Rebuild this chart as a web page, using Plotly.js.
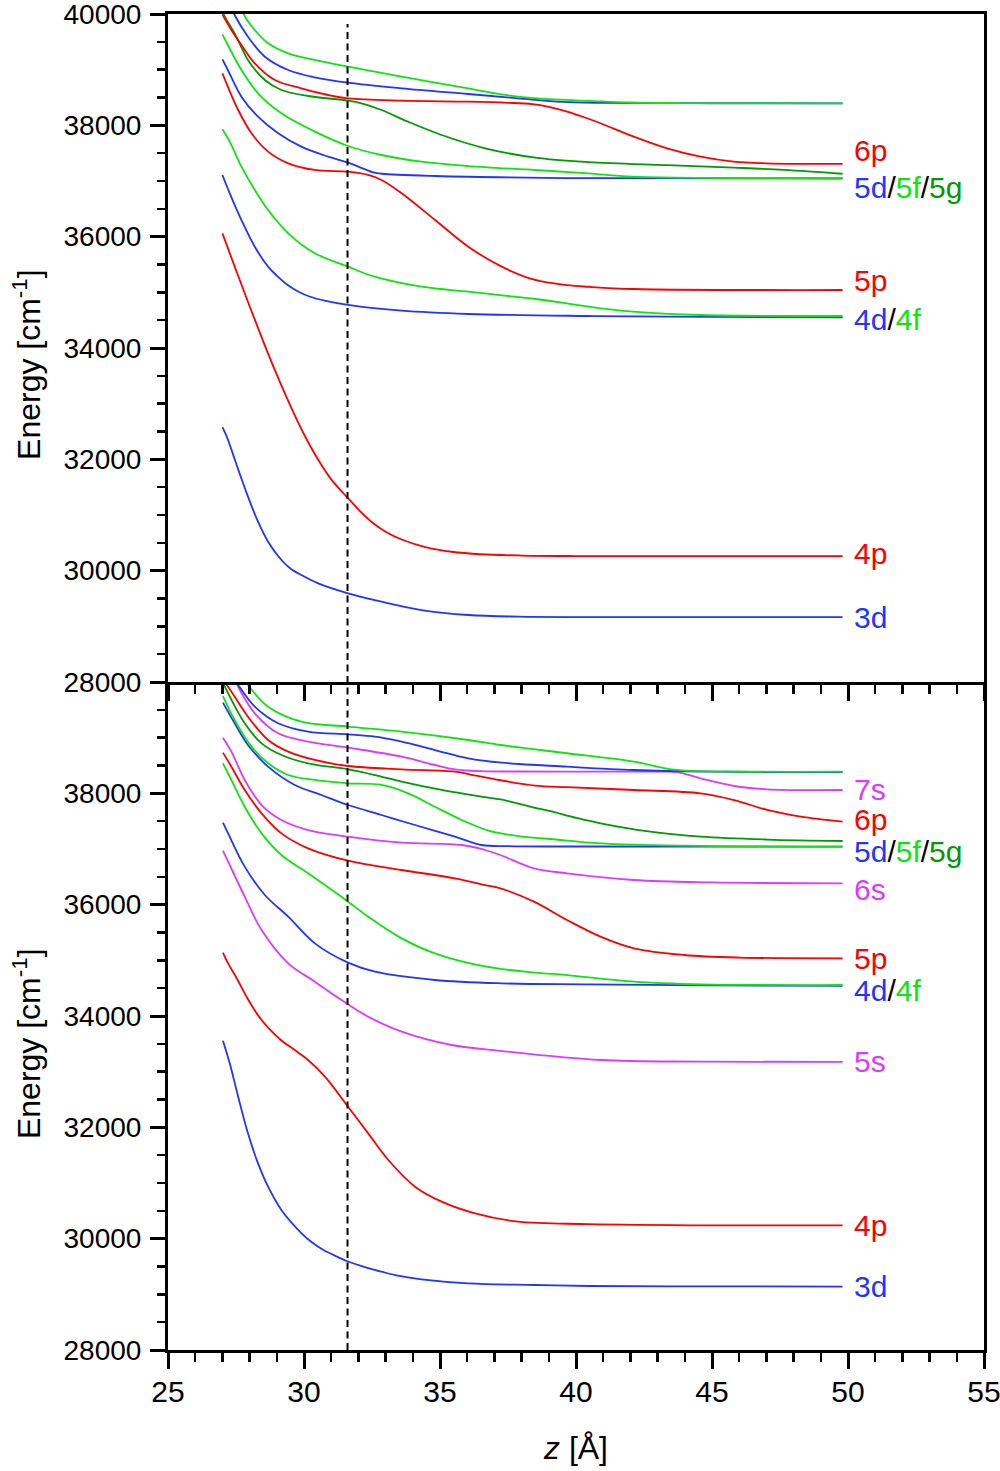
<!DOCTYPE html>
<html><head><meta charset="utf-8">
<script src="https://cdn.plot.ly/plotly-3.0.1.min.js"></script>
<style>html,body{margin:0;padding:0;background:#fff}#chart{width:1000px;height:1471px}</style>
</head><body><div id="chart"></div>
<script>
// ---------- DATA (z in Å, energy in cm^-1) ----------
// Upper panel
const zTop3d = [27.0, 27.15, 27.3, 27.58, 27.94, 28.31, 28.68, 29.17, 29.5, 29.9, 30.52, 31.62, 32.85, 34.32, 36.04, 37.88, 40.34, 44.0, 49.8];
const eTop3d = [32580, 32420, 32220, 31820, 31329, 30880, 30520, 30192, 30040, 29922, 29772, 29594, 29443, 29293, 29204, 29174, 29166, 29165, 29165];
const zTop4p = [27.0, 27.5, 28.0, 28.5, 29.0, 29.5, 30.0, 30.5, 31.0, 31.62, 32.0, 32.5, 33.0, 33.59, 34.5, 35.43, 36.5, 38.0, 40.0, 44.0, 49.8];
const eTop4p = [36060, 35400, 34750, 34120, 33520, 32960, 32450, 32010, 31640, 31300, 31100, 30870, 30700, 30560, 30420, 30340, 30295, 30272, 30263, 30260, 30260];
const zTop4d = [27.0, 27.27, 27.7, 28.19, 28.68, 29.0, 29.4, 29.8, 30.2, 30.8, 31.62, 33.59, 36.04, 40.46, 45.0, 49.8];
const eTop4d = [37108, 36779, 36299, 35820, 35461, 35300, 35130, 35010, 34925, 34845, 34773, 34670, 34611, 34575, 34558, 34551];
const zTop4f = [27.0, 27.27, 27.7, 28.19, 28.68, 29.42, 30.4, 31.62, 32.6, 34.32, 36.04, 37.2, 38.5, 39.67, 40.46, 42.1, 44.6, 49.8];
const eTop4f = [37929, 37706, 37257, 36838, 36479, 36060, 35701, 35461, 35281, 35101, 35012, 34950, 34880, 34803, 34742, 34652, 34593, 34575];
const zTop5p = [27.0, 27.2, 27.58, 28.07, 28.68, 29.42, 30.4, 31.62, 32.36, 32.85, 33.59, 34.82, 36.04, 37.27, 38.5, 39.67, 40.46, 42.1, 49.8];
const eTop5p = [38935, 38694, 38275, 37857, 37527, 37318, 37198, 37167, 37108, 37018, 36779, 36299, 35820, 35461, 35222, 35130, 35100, 35060, 35042];
const zTop5d = [27.0, 27.2, 27.7, 28.31, 29.05, 29.9, 30.89, 31.62, 32.55, 32.85, 34.82, 40.46, 49.8];
const eTop5d = [39186, 38994, 38514, 38155, 37857, 37617, 37437, 37330, 37156, 37130, 37090, 37050, 37045];
const zTop5f = [27.0, 27.2, 27.7, 28.31, 29.17, 30.4, 31.62, 32.85, 34.32, 36.04, 38.5, 40.46, 42.1, 49.8];
const eTop5f = [39635, 39443, 38994, 38575, 38216, 37886, 37629, 37467, 37347, 37269, 37198, 37138, 37078, 37052];
const zTop5g = [27.0, 27.09, 27.45, 27.94, 28.56, 29.17, 30.15, 31.62, 32.11, 32.85, 33.83, 35.06, 36.66, 38.5, 40.46, 43.35, 45.8, 47.65, 49.8];
const eTop5g = [40060, 39952, 39653, 39174, 38814, 38635, 38527, 38443, 38396, 38275, 38065, 37826, 37587, 37420, 37340, 37285, 37240, 37200, 37130];
const zTop6p = [27.0, 27.33, 27.7, 28.19, 28.93, 29.9, 30.89, 31.62, 33.59, 36.04, 37.5, 38.4, 39.0, 39.67, 40.3, 40.9, 42.13, 43.35, 44.58, 45.8, 47.0, 48.5, 49.8];
const eTop6p = [39990, 39713, 39443, 39114, 38814, 38665, 38545, 38485, 38443, 38425, 38405, 38380, 38330, 38245, 38145, 38037, 37796, 37587, 37437, 37347, 37318, 37308, 37306];
const zTop6d = [27.35, 27.45, 27.94, 28.56, 29.42, 30.4, 31.62, 33.59, 36.04, 37.88, 39.5, 41.0, 45.0, 49.8];
const eTop6d = [40100, 39982, 39593, 39233, 38994, 38862, 38766, 38665, 38563, 38485, 38420, 38402, 38397, 38396];
const zTop6f = [27.7, 27.8, 28.19, 28.68, 29.42, 30.4, 31.62, 33.59, 36.04, 37.2, 37.88, 39.0, 40.46, 42.0, 44.0, 49.8];
const eTop6f = [40150, 39982, 39713, 39474, 39294, 39174, 39053, 38874, 38665, 38560, 38514, 38470, 38440, 38410, 38400, 38396];

// Lower panel
const zBot3d = [27.02, 27.27, 27.58, 27.94, 28.31, 28.68, 29.17, 29.91, 30.3, 30.7, 31.2, 31.62, 32.3, 32.85, 33.5, 34.32, 36.04, 38.5, 40.46, 45.0, 49.8];
const eBot3d = [33557, 33150, 32551, 31892, 31353, 30934, 30515, 30096, 29930, 29800, 29680, 29590, 29480, 29407, 29330, 29269, 29197, 29168, 29150, 29142, 29140];
const zBot4p = [27.02, 27.21, 27.5, 27.94, 28.3, 28.68, 29.17, 29.66, 30.15, 30.77, 31.62, 32.36, 33.1, 34.08, 35.06, 36.29, 37.88, 40.46, 45.0, 49.8];
const eBot4p = [35140, 34946, 34700, 34300, 34020, 33790, 33560, 33389, 33210, 32910, 32371, 31892, 31413, 30934, 30665, 30455, 30305, 30263, 30240, 30237];
const zBot5s = [27.02, 27.21, 27.82, 28.44, 29.42, 30.4, 31.38, 32.36, 33.59, 35.43, 37.22, 40.9, 44.58, 49.8];
const eBot5s = [36970, 36772, 36144, 35545, 34946, 34617, 34287, 33988, 33719, 33479, 33375, 33210, 33180, 33175];
const zBot4d = [27.02, 27.21, 27.82, 28.56, 29.42, 30.4, 31.62, 32.61, 34.81, 37.27, 40.46, 45.0, 49.8];
const eBot4d = [37473, 37281, 36683, 36174, 35784, 35305, 34958, 34796, 34647, 34587, 34569, 34550, 34540];
const zBot4f = [27.02, 27.33, 27.82, 28.44, 29.17, 30.15, 31.62, 32.36, 33.59, 34.81, 36.66, 38.5, 39.67, 42.13, 44.58, 49.8];
const eBot4f = [38539, 38240, 37760, 37281, 36892, 36563, 36054, 35784, 35395, 35126, 34890, 34780, 34736, 34617, 34569, 34557];
const zBot5p = [27.02, 27.33, 27.82, 28.44, 29.17, 30.15, 31.62, 33.59, 35.55, 36.66, 37.22, 38.45, 39.67, 40.9, 42.13, 43.97, 46.0, 49.8];
const eBot5p = [38731, 38479, 38060, 37641, 37281, 37012, 36790, 36623, 36473, 36353, 36293, 36054, 35725, 35425, 35216, 35096, 35050, 35036];
const zBot6s = [27.02, 27.33, 27.82, 28.44, 29.17, 30.15, 31.62, 33.59, 35.8, 36.66, 37.22, 38.45, 39.67, 42.13, 45.0, 49.8];
const eBot6s = [39000, 38749, 38240, 37790, 37521, 37341, 37222, 37114, 37072, 36982, 36892, 36653, 36563, 36443, 36400, 36383];
const zBot5d = [27.02, 27.45, 27.94, 28.68, 29.66, 30.64, 31.62, 32.85, 34.08, 35.55, 36.53, 37.5, 40.46, 49.8];
const eBot5d = [39629, 39258, 38868, 38479, 38150, 37970, 37790, 37611, 37431, 37222, 37072, 37050, 37045, 37042];
const zBot5f = [27.02, 27.45, 28.07, 28.68, 29.42, 30.4, 31.62, 32.85, 33.83, 34.81, 35.8, 36.78, 37.5, 38.5, 39.06, 40.9, 44.0, 49.8];
const eBot5f = [39748, 39317, 38838, 38539, 38329, 38240, 38180, 38150, 38000, 37760, 37521, 37330, 37260, 37200, 37180, 37102, 37060, 37042];
const zBot5g = [27.0, 27.09, 27.82, 28.44, 29.17, 30.15, 31.62, 32.61, 33.59, 35.06, 36.66, 37.22, 38.5, 39.06, 40.0, 40.9, 42.74, 44.58, 47.03, 49.8];
const eBot5g = [40010, 39916, 39258, 38898, 38689, 38539, 38431, 38329, 38210, 38060, 37930, 37890, 37740, 37680, 37560, 37461, 37311, 37222, 37170, 37144];
const zBot6p = [27.05, 27.21, 27.94, 28.68, 29.42, 30.4, 31.62, 33.59, 35.55, 36.04, 37.22, 38.5, 39.67, 42.13, 44.58, 45.81, 47.03, 48.26, 49.8];
const eBot6p = [40010, 39916, 39377, 38958, 38749, 38599, 38491, 38431, 38389, 38347, 38235, 38140, 38110, 38060, 38000, 37880, 37701, 37581, 37491];
const zBot7s = [27.45, 27.64, 28.19, 29.05, 30.15, 31.62, 33.59, 34.81, 35.55, 36.5, 38.0, 40.46, 43.0, 43.72, 44.58, 45.81, 47.03, 49.8];
const eBot7s = [40050, 39856, 39437, 39078, 38928, 38820, 38659, 38509, 38430, 38398, 38392, 38390, 38390, 38380, 38269, 38132, 38072, 38060];
const zBot6d = [27.45, 27.58, 28.19, 29.05, 30.15, 31.62, 32.61, 33.59, 34.81, 36.04, 37.27, 39.67, 42.13, 45.0, 49.8];
const eBot6d = [40050, 39946, 39557, 39258, 39108, 39060, 39018, 38928, 38778, 38629, 38550, 38479, 38419, 38390, 38380];
const zBot6f = [27.8, 27.94, 28.68, 29.91, 31.62, 33.59, 36.04, 37.22, 38.5, 39.67, 42.13, 43.6, 46.0, 49.8];
const eBot6f = [40050, 39946, 39557, 39287, 39198, 39108, 38958, 38868, 38790, 38720, 38569, 38425, 38392, 38389];

// Level labels
const topLabels = ['6p', '5d/5f/5g', '5p', '4d/4f', '4p', '3d'];
const topLabelE = [37548, 36883, 35204, 34521, 30300, 29150];
const botLabels = ['7s', '6p', '5d/5f/5g', '6s', '5p', '4d/4f', '5s', '4p', '3d'];
const botLabelE = [38070, 37530, 36950, 36281, 35042, 34467, 33174, 30237, 29132];

const zMarker = 31.6;               // dashed vertical line
const zRange = [25, 55];
const eRange = [28000, 40000];
const topTicks = [28000, 30000, 32000, 34000, 36000, 38000, 40000];
const botTicks = [28000, 30000, 32000, 34000, 36000, 38000];

// ---------- STYLE ----------
const FONT = 'Liberation Sans, Arial, Helvetica, sans-serif';
const COLORS = {s: '#d93cff', p: '#ff0000', d: '#2036ff', f: '#10e410', g: '#009900'};
const colorOf = name => COLORS[name.slice(-1)];

function curve(z, e, name, xa, ya) {
  return {x: z, y: e, name: name, type: 'scatter', mode: 'lines', xaxis: xa, yaxis: ya,
    line: {color: colorOf(name), width: 1.8, shape: 'spline', smoothing: 1.0},
    hoverinfo: 'x+y+name'};
}

const traces = [
  curve(zTop3d, eTop3d, '3d', 'x2', 'y2'),
  curve(zTop4p, eTop4p, '4p', 'x2', 'y2'),
  curve(zTop4d, eTop4d, '4d', 'x2', 'y2'),
  curve(zTop4f, eTop4f, '4f', 'x2', 'y2'),
  curve(zTop5p, eTop5p, '5p', 'x2', 'y2'),
  curve(zTop5d, eTop5d, '5d', 'x2', 'y2'),
  curve(zTop5f, eTop5f, '5f', 'x2', 'y2'),
  curve(zTop5g, eTop5g, '5g', 'x2', 'y2'),
  curve(zTop6p, eTop6p, '6p', 'x2', 'y2'),
  curve(zTop6d, eTop6d, '6d', 'x2', 'y2'),
  curve(zTop6f, eTop6f, '6f', 'x2', 'y2'),
  curve(zBot3d, eBot3d, '3d', 'x', 'y'),
  curve(zBot4p, eBot4p, '4p', 'x', 'y'),
  curve(zBot5s, eBot5s, '5s', 'x', 'y'),
  curve(zBot4d, eBot4d, '4d', 'x', 'y'),
  curve(zBot4f, eBot4f, '4f', 'x', 'y'),
  curve(zBot5p, eBot5p, '5p', 'x', 'y'),
  curve(zBot6s, eBot6s, '6s', 'x', 'y'),
  curve(zBot5d, eBot5d, '5d', 'x', 'y'),
  curve(zBot5f, eBot5f, '5f', 'x', 'y'),
  curve(zBot5g, eBot5g, '5g', 'x', 'y'),
  curve(zBot6p, eBot6p, '6p', 'x', 'y'),
  curve(zBot7s, eBot7s, '7s', 'x', 'y'),
  curve(zBot6d, eBot6d, '6d', 'x', 'y'),
  curve(zBot6f, eBot6f, '6f', 'x', 'y')
];

function labelHtml(txt) {
  return txt.split('/').map(p => '<span style="color:' + colorOf(p) + '">' + p + '</span>').join('/');
}
const annotations = [];
topLabels.forEach((t, i) => annotations.push({x: 50.2, y: topLabelE[i], xref: 'x2', yref: 'y2', text: labelHtml(t),
  showarrow: false, xanchor: 'left', yanchor: 'middle', borderpad: 0, font: {family: FONT, size: 30, color: '#000'}}));
botLabels.forEach((t, i) => annotations.push({x: 50.2, y: botLabelE[i], xref: 'x', yref: 'y', text: labelHtml(t),
  showarrow: false, xanchor: 'left', yanchor: 'middle', borderpad: 0, font: {family: FONT, size: 30, color: '#000'}}));
// y-axis titles
[0.7373, 0.229].forEach(py => annotations.push({x: 0, y: py, xref: 'paper', yref: 'paper', xshift: -141,
  text: 'Energy [cm<sup>-1</sup>]', textangle: -90, showarrow: false, xanchor: 'center', yanchor: 'middle',
  font: {family: FONT, size: 32, color: '#000'}}));

const xMinor = {dtick: 1, tick0: 25, ticks: 'outside', ticklen: 9, tickwidth: 2.5, tickcolor: '#000', showgrid: false};
const yMinor = {dtick: 500, tick0: 28000, ticks: 'outside', ticklen: 8, tickwidth: 2.5, tickcolor: '#000', showgrid: false};
const common = {showgrid: false, zeroline: false, showline: true, linewidth: 3, linecolor: '#000',
  ticks: 'outside', tickcolor: '#000', tickwidth: 3, ticklabeloverflow: 'allow'};

const layout = {
  width: 1000, height: 1471,
  margin: {l: 168, r: 16, t: 14, b: 121, pad: 0},
  paper_bgcolor: '#fff', plot_bgcolor: '#fff',
  showlegend: false,
  font: {family: FONT, color: '#000'},
  xaxis: Object.assign({}, common, {domain: [0, 1], anchor: 'y', range: zRange, tickmode: 'linear', tick0: 25, dtick: 5,
    ticklen: 16, mirror: false, minor: xMinor, ticklabelstandoff: -3, tickfont: {family: FONT, size: 30, color: '#000'},
    title: {text: '<i>z</i> [Å]', font: {family: FONT, size: 32, color: '#000'}, standoff: 30}}),
  xaxis2: Object.assign({}, common, {domain: [0, 1], anchor: 'y2', range: zRange, tickmode: 'linear', tick0: 25, dtick: 5,
    ticklen: 16, mirror: true, showticklabels: false, minor: xMinor}),
  yaxis: Object.assign({}, common, {domain: [0, 0.5], anchor: 'x', range: eRange, tickmode: 'array', tickvals: botTicks,
    ticktext: botTicks.map(String), ticklen: 15, mirror: true, minor: yMinor, ticklabelstandoff: 3,
    tickfont: {family: FONT, size: 28, color: '#000'}}),
  yaxis2: Object.assign({}, common, {domain: [0.5, 1], anchor: 'x2', range: eRange, tickmode: 'array', tickvals: topTicks,
    ticktext: topTicks.map(String), ticklen: 15, mirror: true, minor: yMinor, ticklabelstandoff: 3,
    tickfont: {family: FONT, size: 28, color: '#000'}}),
  shapes: [{type: 'line', xref: 'x', yref: 'paper', x0: zMarker, x1: zMarker, y0: 0, y1: 0.9925,
    line: {color: '#000', width: 2, dash: '7px,4.5px'}}],
  annotations: annotations
};

Plotly.newPlot('chart', traces, layout, {displayModeBar: false, staticPlot: true});
</script></body></html>
